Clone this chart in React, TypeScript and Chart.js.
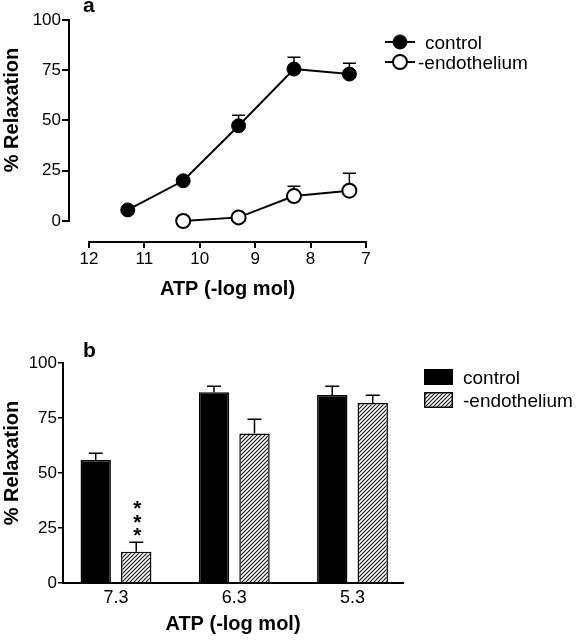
import React, { useEffect, useRef } from "react";
import { Chart, registerables } from "chart.js";
Chart.register(...registerables);

// ---------- data ----------
const seriesLabels = ["control", "-endothelium"];
const xTitle = "ATP (-log mol)";
const yTitle = "% Relaxation";

// panel a
const controlDoseA = [11.3, 10.3, 9.3, 8.3, 7.3];
const controlA = [5.5, 20, 47.4, 75.6, 73.1];
const controlAErr = [1, 1.5, 5.3, 5.8, 5.3];
const endoDoseA = [10.3, 9.3, 8.3, 7.3];
const endoA = [0, 1.8, 12.4, 15.1];
const endoAErr = [0.5, 1, 5.2, 8.6];
const xTicksA = [12, 11, 10, 9, 8, 7];
const yTicks = [0, 25, 50, 75, 100];

// panel b
const categoriesB = ["7.3", "6.3", "5.3"];
const controlB = [55.9, 86.7, 85.5];
const controlBErr = [3.1, 2.9, 4.2];
const endoB = [14.2, 68, 81.8];
const endoBErr = [4.3, 6.6, 3.8];
const significanceB = ["***", "", ""];

const FONT = "'Liberation Sans', Arial, Helvetica, sans-serif";

function makeHatch(): CanvasPattern | string {
  const c = document.createElement("canvas");
  c.width = 4;
  c.height = 4;
  const g = c.getContext("2d");
  if (!g) return "#888";
  g.fillStyle = "#fff";
  g.fillRect(0, 0, 4, 4);
  g.strokeStyle = "#1a1a1a";
  g.lineWidth = 1.15;
  g.beginPath();
  g.moveTo(0, 4);
  g.lineTo(4, 0);
  g.moveTo(-1, 1);
  g.lineTo(1, -1);
  g.moveTo(3, 5);
  g.lineTo(5, 3);
  g.stroke();
  return g.createPattern(c, "repeat") || "#888";
}

function makeErrorBars(errors: number[][], capWidth: number, lineWidth: number, before: boolean) {
  const draw = (chart: any) => {
    const ctx: CanvasRenderingContext2D = chart.ctx;
    const ys = chart.scales.y;
    ctx.save();
    ctx.strokeStyle = "#000";
    ctx.lineWidth = lineWidth;
    errors.forEach((errs, di) => {
      const meta = chart.getDatasetMeta(di);
      const ds = chart.data.datasets[di].data as { x: number; y: number }[];
      meta.data.forEach((el: any, j: number) => {
        const e = errs[j];
        if (!e) return;
        const v = ds[j].y;
        const px = el.x;
        const p0 = ys.getPixelForValue(v);
        const p1 = Math.round(ys.getPixelForValue(v + e)) + 0.25;
        ctx.beginPath();
        ctx.moveTo(px, p0);
        ctx.lineTo(px, p1);
        ctx.moveTo(px - capWidth / 2, p1);
        ctx.lineTo(px + capWidth / 2, p1);
        ctx.stroke();
      });
    });
    ctx.restore();
  };
  return {
    id: "errorBars",
    beforeDatasetsDraw(chart: any) {
      if (before) draw(chart);
    },
    afterDatasetsDraw(chart: any) {
      if (!before) draw(chart);
    },
  };
}

function drawYTitle(ctx: CanvasRenderingContext2D, x: number, y: number) {
  ctx.save();
  ctx.translate(x, y);
  ctx.rotate(-Math.PI / 2);
  ctx.font = `bold 20px ${FONT}`;
  ctx.fillStyle = "#000";
  ctx.textAlign = "center";
  ctx.textBaseline = "alphabetic";
  ctx.fillText(yTitle, 0, 0);
  ctx.restore();
}

function drawText(ctx: CanvasRenderingContext2D, text: string, x: number, y: number, font: string, align: CanvasTextAlign) {
  ctx.font = font;
  ctx.fillStyle = "#000";
  ctx.textAlign = align;
  ctx.textBaseline = "alphabetic";
  ctx.fillText(text, x, y);
}

const panelAPlugin = {
  id: "panelA",
  afterDraw(chart: any) {
    const ctx: CanvasRenderingContext2D = chart.ctx;
    const xs = chart.scales.x;
    const ys = chart.scales.y;
    const area = chart.chartArea;
    ctx.save();
    ctx.strokeStyle = "#000";
    ctx.lineWidth = 2;
    // y axis (detached)
    const yx = Math.round(area.left);
    const y0 = Math.round(ys.getPixelForValue(yTicks[0]));
    const y1 = Math.round(ys.getPixelForValue(yTicks[yTicks.length - 1]));
    ctx.beginPath();
    ctx.moveTo(yx, y0 + 1);
    ctx.lineTo(yx, y1 - 1);
    yTicks.forEach((t) => {
      const p = Math.round(ys.getPixelForValue(t));
      ctx.moveTo(yx - 7, p);
      ctx.lineTo(yx, p);
    });
    ctx.stroke();
    // x axis (detached)
    const xy = Math.round(area.bottom);
    const xa = Math.round(xs.getPixelForValue(xTicksA[0]));
    const xb = Math.round(xs.getPixelForValue(xTicksA[xTicksA.length - 1]));
    ctx.beginPath();
    ctx.moveTo(xa - 1, xy);
    ctx.lineTo(xb + 1, xy);
    xTicksA.forEach((t) => {
      const p = Math.round(xs.getPixelForValue(t));
      ctx.moveTo(p, xy);
      ctx.lineTo(p, xy + 6);
    });
    ctx.stroke();
    ctx.restore();

    ctx.save();
    drawText(ctx, "a", 83, 12, `bold 21px ${FONT}`, "left");
    drawYTitle(ctx, 18, 110);
    drawText(ctx, xTitle, (xa + xb) / 2, 295, `bold 20px ${FONT}`, "center");
    // legend
    const legY = [42, 62];
    const legTextX = [425, 418];
    chart.data.datasets.forEach((ds: any, i: number) => {
      const y = legY[i];
      ctx.strokeStyle = "#000";
      ctx.lineWidth = 2;
      ctx.beginPath();
      ctx.moveTo(385, y);
      ctx.lineTo(415, y);
      ctx.stroke();
      ctx.beginPath();
      ctx.arc(400, y, 7, 0, Math.PI * 2);
      ctx.fillStyle = ds.pointBackgroundColor;
      ctx.fill();
      ctx.lineWidth = ds.pointBorderWidth;
      ctx.stroke();
      drawText(ctx, ds.label, legTextX[i], y + 6.5, `19px ${FONT}`, "left");
    });
    ctx.restore();
  },
};

const panelBPlugin = {
  id: "panelB",
  afterDraw(chart: any) {
    const ctx: CanvasRenderingContext2D = chart.ctx;
    const ys = chart.scales.y;
    const area = chart.chartArea;
    ctx.save();
    drawText(ctx, "b", 83, 37, `bold 21px ${FONT}`, "left");
    drawYTitle(ctx, 18, 143);
    drawText(ctx, xTitle, (area.left + area.right) / 2, 310, `bold 20px ${FONT}`, "center");
    // legend
    const legY = [49, 72];
    chart.data.datasets.forEach((ds: any, i: number) => {
      const y = legY[i];
      ctx.fillStyle = ds.backgroundColor;
      ctx.fillRect(424, y, 29, 16);
      ctx.strokeStyle = "#000";
      ctx.lineWidth = 1.5;
      ctx.strokeRect(424.75, y + 0.75, 27.5, 14.5);
      drawText(ctx, ds.label, 463, y + 15, `19px ${FONT}`, "left");
    });
    // significance marks
    const meta = chart.getDatasetMeta(1);
    significanceB.forEach((s, j) => {
      if (!s) return;
      const el: any = meta.data[j];
      const top = ys.getPixelForValue(endoB[j] + endoBErr[j]);
      for (let k = 0; k < s.length; k++) {
        const cy = top - 12 - k * 13.5;
        drawText(ctx, s[k], el.x + 1, cy + 12, `bold 21px ${FONT}`, "center");
      }
    });
    ctx.restore();
  },
};

export default function App() {
  const refA = useRef<HTMLCanvasElement>(null);
  const refB = useRef<HTMLCanvasElement>(null);

  useEffect(() => {
    document.body.style.margin = "0";
    Chart.defaults.color = "#000";
    Chart.defaults.font.family = FONT;

    const chartA = new Chart(refA.current as HTMLCanvasElement, {
      type: "line",
      data: {
        datasets: [
          {
            label: seriesLabels[0],
            data: controlDoseA.map((x, i) => ({ x, y: controlA[i] })),
            borderColor: "#000",
            borderWidth: 2,
            pointRadius: 7,
            pointHoverRadius: 7,
            pointBackgroundColor: "#000",
            pointBorderColor: "#000",
            pointBorderWidth: 1,
            tension: 0,
          },
          {
            label: seriesLabels[1],
            data: endoDoseA.map((x, i) => ({ x, y: endoA[i] })),
            borderColor: "#000",
            borderWidth: 2,
            pointRadius: 7,
            pointHoverRadius: 7,
            pointBackgroundColor: "#fff",
            pointBorderColor: "#000",
            pointBorderWidth: 2,
            tension: 0,
          },
        ],
      },
      options: {
        responsive: false,
        animation: false,
        events: [],
        layout: { padding: { top: 20, left: 0, right: 210, bottom: 0 } },
        plugins: { legend: { display: false }, tooltip: { enabled: false } },
        scales: {
          x: {
            type: "linear",
            reverse: true,
            min: 7,
            max: 12.361,
            grid: { display: false, drawTicks: false },
            border: { display: false },
            ticks: { font: { size: 17, family: FONT }, color: "#000", padding: 7, maxRotation: 0 },
            afterBuildTicks: (s: any) => {
              s.ticks = xTicksA.map((v) => ({ value: v }));
            },
            afterFit: (s: any) => {
              s.height = 78;
              s.paddingLeft = 0;
              s.paddingRight = 0;
            },
          },
          y: {
            type: "linear",
            min: -10.45,
            max: 100,
            grid: { display: false, drawTicks: false },
            border: { display: false },
            ticks: { font: { size: 17, family: FONT }, color: "#000", padding: 8 },
            afterBuildTicks: (s: any) => {
              s.ticks = yTicks.map((v) => ({ value: v }));
            },
            afterFit: (s: any) => {
              s.width = 69;
              s.paddingTop = 0;
              s.paddingBottom = 0;
            },
          },
        },
      },
      plugins: [makeErrorBars([controlAErr, endoAErr], 13, 1.5, true), panelAPlugin],
    } as any);

    const hatch = makeHatch();
    const chartB = new Chart(refB.current as HTMLCanvasElement, {
      type: "bar",
      data: {
        datasets: [
          {
            label: seriesLabels[0],
            data: categoriesB.map((_, i) => ({ x: i, y: controlB[i] })),
            backgroundColor: "#000",
            borderColor: "#000",
            borderWidth: 1.5,
            categoryPercentage: 0.685,
            barPercentage: 0.75,
          },
          {
            label: seriesLabels[1],
            data: categoriesB.map((_, i) => ({ x: i, y: endoB[i] })),
            backgroundColor: hatch,
            borderColor: "#000",
            borderWidth: 1.5,
            categoryPercentage: 0.685,
            barPercentage: 0.75,
          },
        ],
      },
      options: {
        responsive: false,
        animation: false,
        events: [],
        layout: { padding: { top: 43, left: 0, right: 173, bottom: 0 } },
        plugins: { legend: { display: false }, tooltip: { enabled: false } },
        scales: {
          x: {
            type: "linear",
            min: -0.448,
            max: 2.427,
            offset: false,
            grid: { display: false, drawTicks: false },
            border: { display: true, color: "#000", width: 2 },
            ticks: {
              font: { size: 18, family: FONT },
              color: "#000",
              padding: 4,
              maxRotation: 0,
              callback: (v: any) => categoriesB[Math.round(Number(v))] ?? "",
            },
            afterBuildTicks: (s: any) => {
              s.ticks = categoriesB.map((_, i) => ({ value: i }));
            },
            afterFit: (s: any) => {
              s.height = 57;
              s.paddingLeft = 0;
              s.paddingRight = 0;
            },
          },
          y: {
            type: "linear",
            min: 0,
            max: 100,
            grid: { display: true, drawOnChartArea: false, drawTicks: true, tickLength: 5, color: "#000", lineWidth: 1.5 },
            border: { display: true, color: "#000", width: 2 },
            ticks: { font: { size: 17, family: FONT }, color: "#000", padding: 1 },
            afterBuildTicks: (s: any) => {
              s.ticks = yTicks.map((v) => ({ value: v }));
            },
            afterFit: (s: any) => {
              s.width = 63;
              s.paddingTop = 0;
              s.paddingBottom = 0;
            },
          },
        },
      },
      plugins: [makeErrorBars([controlBErr, endoBErr], 14, 1.5, false), panelBPlugin],
    } as any);

    return () => {
      chartA.destroy();
      chartB.destroy();
    };
  }, []);

  return (
    <div style={{ position: "absolute", left: 0, top: 0, width: 576, height: 640, background: "#fff" }}>
      <canvas ref={refA} width={576} height={320} style={{ display: "block", width: 576, height: 320 }} />
      <canvas ref={refB} width={576} height={320} style={{ display: "block", width: 576, height: 320 }} />
    </div>
  );
}
